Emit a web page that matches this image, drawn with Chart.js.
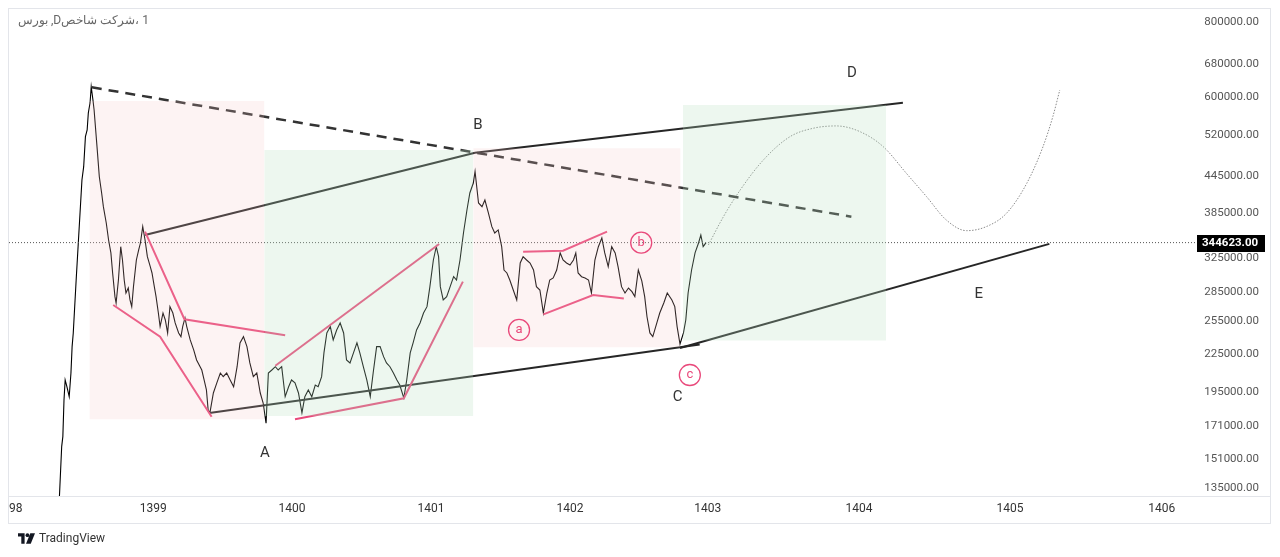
<!DOCTYPE html>
<html>
<head>
<meta charset="utf-8">
<title>شاخص شرکت</title>
<script src="https://cdn.jsdelivr.net/npm/chart.js@4.4.1/dist/chart.umd.min.js"></script>
<style>
  html, body { margin: 0; padding: 0; background: #fff; }
  body { width: 1280px; height: 557px; position: relative; overflow: hidden; font-family: Roboto, "Noto Sans", sans-serif; }
  #clip { position: absolute; left: 8px; top: 0; width: 1272px; height: 557px; overflow: hidden; }
  #chart { position: absolute; left: -28px; top: 0; }
  .line { position: absolute; background: #e3e5ea; pointer-events: none; }
  #title { position: absolute; left: 18px; top: 13px; font-size: 12px; color: #666; white-space: nowrap; }
  #title span { unicode-bidi: isolate; }
  #brand { position: absolute; left: 18px; top: 531px; font-size: 12px; color: #333; display: flex; align-items: center; gap: 4px; }
</style>
</head>
<body>
<div id="clip"><canvas id="chart" width="1300" height="557"></canvas></div>
<div class="line" style="left:8px;top:8px;width:1263px;height:1px"></div>
<div class="line" style="left:8px;top:523px;width:1263px;height:1px"></div>
<div class="line" style="left:8px;top:8px;width:1px;height:516px"></div>
<div class="line" style="left:1270px;top:8px;width:1px;height:516px"></div>
<div class="line" style="left:8px;top:496px;width:1263px;height:1px"></div>
<div id="title"><span dir="rtl">بورس</span><span dir="ltr"> ,D</span><span dir="rtl">شرکت شاخص</span><span dir="ltr">، 1</span></div>
<div id="brand">
  <svg width="17" height="11" viewBox="0 0 36 22"><path d="M0 0h14v22H7V7H0z" fill="#131722"/><circle cx="20" cy="4" r="4" fill="#131722"/><path d="M26 0h10l-9 22H17z" fill="#131722"/></svg>
  <span>TradingView</span>
</div>
<script>
// time axis: trading-day index, 0 = start of 1399
const yearLabels = ['1398', '1399', '1400', '1401', '1402', '1403', '1404', '1405', '1406'];
const yearDay = [-249, 0, 240, 480, 720, 958, 1219, 1480, 1742];
const dayMin = -249;
const dayMax = 1803;

// price axis
const priceTicks = [135000, 151000, 171000, 195000, 225000, 255000, 285000, 325000, 385000, 445000, 520000, 600000, 680000, 800000];
const priceMin = 131000;
const priceMax = 840700;

// daily index path
const priceDay = [
  -162, -158, -156, -154, -152, -149, -145, -142, -140, -138, -133, -129, -123, -120, -117, -114, -112, -109, -107, -104,
  -102, -97, -93, -89, -86, -81, -77, -73, -70, -66, -64, -60, -56, -53, -50, -47, -43, -40, -37, -34,
  -29, -25, -22, -18, -14, -10, -5, -2, 2, 5, 9, 12, 17, 21, 25, 29, 34, 38, 44, 48,
  51, 55, 58, 64, 70, 75, 84, 88, 92, 95, 98, 104, 110, 116, 121, 127, 133, 139, 145, 150,
  156, 162, 167, 173, 179, 185, 190, 195, 199, 205, 211, 216, 222, 228, 234, 239, 245, 251, 257, 262,
  268, 274, 280, 285, 291, 295, 300, 306, 311, 317, 323, 329, 334, 340, 346, 352, 357, 363, 369, 375,
  380, 386, 392, 398, 403, 409, 415, 421, 426, 433, 438, 444, 449, 455, 461, 467, 473, 478, 484, 489,
  493, 496, 501, 507, 513, 519, 524, 530, 536, 542, 547, 553, 556, 562, 568, 573, 579, 585, 590, 596,
  602, 606, 611, 616, 622, 628, 634, 639, 645, 651, 657, 662, 668, 674, 680, 685, 691, 697, 703, 708,
  714, 720, 726, 730, 734, 740, 746, 752, 757, 763, 769, 775, 780, 786, 792, 798, 803, 809, 815, 821,
  827, 832, 838, 844, 849, 853, 858, 863, 870, 875, 882, 888, 896, 901, 905, 910, 916, 920, 924, 930,
  936, 942, 946, 950, 955
];
const priceClose = [
  130000, 158200, 164300, 189000, 204000, 198800, 191400, 209500, 231700, 244100, 298800, 348100, 437700, 460500, 516400, 529700, 565300, 587300, 625000, 594000,
  571800, 497100, 443200, 416500, 395300, 371400, 348100, 331300, 306900, 280400, 273700, 298800, 339300, 322500, 298800, 284300, 289800, 276900, 269900, 291300,
  322500, 335100, 344100, 366300, 348100, 326600, 314400, 306900, 291300, 280400, 263400, 250100, 263400, 256500, 244100, 269900, 263400, 253600, 244100, 240700,
  250100, 258500, 250100, 237700, 228800, 220200, 211900, 204000, 196400, 181900, 179900, 194100, 201700, 209500, 206600, 209500, 204000, 198800, 214600, 235000,
  240700, 231700, 217700, 206600, 209500, 194100, 186800, 173000, 209500, 211900, 214600, 211900, 214600, 191400, 198800, 204000, 201700, 194100, 179900, 191400,
  196400, 191400, 200100, 198800, 206600, 226200, 244100, 250100, 237700, 246900, 253600, 244100, 220200, 217700, 226200, 235000, 226200, 214600, 204000, 191400,
  209500, 231700, 231700, 223000, 217700, 214600, 209500, 204000, 200100, 190400, 204000, 226200, 235000, 246900, 253600, 263400, 269900, 291300, 322500, 339300,
  326600, 291300, 276900, 280400, 291300, 302600, 298800, 322500, 357500, 390300, 416500, 432700, 452000, 400900, 395300, 405500, 385900, 366300, 357500, 361700,
  339300, 310400, 306900, 298800, 287600, 276900, 318800, 326600, 322500, 318800, 310400, 291300, 287600, 263400, 284300, 298800, 301100, 310400, 331300, 322500,
  318800, 316400, 322500, 331300, 306900, 302600, 301100, 298800, 284300, 322500, 339300, 350800, 331300, 314400, 339300, 331300, 314400, 291300, 284300, 289800,
  285800, 280400, 310400, 297700, 280400, 259700, 244100, 240700, 253600, 263400, 273700, 284300, 276900, 269900, 250100, 234000, 244100, 256500, 284300, 310400,
  331300, 344100, 354800, 339300, 344623
];
const lastClose = priceClose[priceClose.length - 1];

// trend lines [start, end]
const dashedDay = [-106, 1206];
const dashedPrice = [623500, 380500];
const upperABDay = [-14, 556];
const upperABPrice = [354800, 485800];
const upperBDDay = [556, 1295];
const upperBDPrice = [485800, 588000];
const lowerACDay = [97, 944];
const lowerACPrice = [179900, 233600];
const lowerCEDay = [910, 1548];
const lowerCEPrice = [230500, 343000];

// pink sub-wave lines (polylines)
const pinkDays = [[-14, 54, 228], [-69, 12, 101], [211, 494], [245, 433, 535], [639, 708, 784], [674, 760, 813]];
const pinkPrices = [
  [359300, 257200, 242000], [271600, 240700, 177300], [215400, 342800],
  [175600, 190200, 296900], [332900, 334200, 359300], [262100, 282200, 278300]
];

// boxes
const boxFrom = [-110, 192, 553, 915];
const boxTo = [192, 553, 911, 1266];
const boxTop = [592000, 490800, 494000, 582800];
const boxBottom = [175600, 177800, 231200, 237100];
const boxKind = ['down', 'up', 'down', 'up'];

// projected path (dotted curve)
const projDay = [959, 985, 1014, 1054, 1100, 1140, 1180, 1221, 1261, 1301, 1336, 1370, 1405, 1439, 1474, 1509, 1537, 1554, 1566];
const projPrice = [341500, 380500, 421300, 472400, 516400, 533200, 538000, 526300, 497100, 449000, 410600, 375700, 360700, 366300, 385500, 432200, 497100, 557500, 617100];

// wave labels
const waveText = ['A', 'B', 'C', 'D', 'E'];
const waveDay = [193, 561, 906, 1207, 1426];
const wavePrice = [154400, 540000, 191200, 658500, 283300];
const subText = ['a', 'b', 'c'];
const subDay = [632, 843, 927];
const subPrice = [246900, 344600, 207900];

const PINK = '#e9497b';
const DARK = '#262626';
const FONT = 'Roboto, "Noto Sans", sans-serif';

function pts(days, prices){
  return days.map((d, i) => ({ x: d, y: prices[i] }));
}

Chart.defaults.font.family = FONT;

const datasets = [];

// price
datasets.push({ data: pts(priceDay, priceClose), borderColor: '#000', borderWidth: 1.1, order: 6 });

// last price dotted line
datasets.push({ data: pts([dayMin, dayMax], [lastClose, lastClose]), borderColor: '#555', borderWidth: 1, borderDash: [1, 2], order: 5 });

// projection
datasets.push({ data: pts(projDay, projPrice), borderColor: '#8a8a8a', borderWidth: 1, borderDash: [1.5, 1.5], cubicInterpolationMode: 'monotone', order: 5 });

// dark trend lines
datasets.push({ data: pts(dashedDay, dashedPrice), borderColor: '#333', borderWidth: 2.5, borderDash: [10, 7], order: 4 });
[[upperABDay, upperABPrice], [upperBDDay, upperBDPrice], [lowerACDay, lowerACPrice], [lowerCEDay, lowerCEPrice]].forEach(([d, p]) => {
  datasets.push({ data: pts(d, p), borderColor: DARK, borderWidth: 2, order: 4 });
});

// pink lines
pinkDays.forEach((d, i) => {
  datasets.push({ data: pts(d, pinkPrices[i]), borderColor: PINK, borderWidth: 2, order: 3 });
});

// boxes drawn last so they tint what lies under them
boxFrom.forEach((d, i) => {
  datasets.push({
    data: pts([d, boxTo[i]], [boxTop[i], boxTop[i]]),
    borderWidth: 0,
    fill: { value: boxBottom[i] },
    backgroundColor: boxKind[i] === 'down' ? 'rgba(247, 196, 196, 0.2)' : 'rgba(186, 224, 192, 0.26)',
    order: 0
  });
});

const overlayPlugin = {
  id: 'overlay',
  afterDatasetsDraw(chart){
    const { ctx, scales: { x, y } } = chart;
    ctx.save();
    ctx.textAlign = 'center';
    ctx.textBaseline = 'middle';
    ctx.font = '15px ' + FONT;
    ctx.fillStyle = '#333';
    waveText.forEach((t, i) => {
      ctx.fillText(t, x.getPixelForValue(waveDay[i]), y.getPixelForValue(wavePrice[i]));
    });
    ctx.strokeStyle = PINK;
    ctx.fillStyle = PINK;
    ctx.lineWidth = 1.3;
    ctx.font = '13px ' + FONT;
    subText.forEach((t, i) => {
      const cx = x.getPixelForValue(subDay[i]);
      const cy = y.getPixelForValue(subPrice[i]);
      ctx.beginPath();
      ctx.arc(cx, cy, 10.5, 0, Math.PI * 2);
      ctx.stroke();
      ctx.fillText(t, cx, cy);
    });
    ctx.restore();
  },
  afterDraw(chart){
    const { ctx, chartArea, scales: { y } } = chart;
    const yy = Math.round(y.getPixelForValue(lastClose));
    ctx.save();
    ctx.fillStyle = '#000';
    ctx.fillRect(chartArea.right, yy - 8, 68, 17);
    ctx.fillStyle = '#fff';
    ctx.font = 'bold 11.5px ' + FONT;
    ctx.textAlign = 'left';
    ctx.textBaseline = 'middle';
    ctx.fillText(lastClose.toFixed(2), chartArea.right + 5, yy + 0.5);
    ctx.restore();
  }
};

new Chart(document.getElementById('chart'), {
  type: 'line',
  data: { datasets },
  plugins: [overlayPlugin],
  options: {
    animation: false,
    responsive: false,
    events: [],
    layout: { padding: { top: 9, left: 29, right: 21, bottom: 0 } },
    elements: { point: { radius: 0 }, line: { tension: 0 } },
    plugins: { legend: { display: false }, tooltip: { enabled: false } },
    scales: {
      x: {
        type: 'linear',
        min: dayMin,
        max: dayMax,
        grid: { display: false, drawTicks: false },
        border: { display: false },
        afterBuildTicks: s => { s.ticks = yearDay.map(v => ({ value: v })); },
        afterFit: s => { s.height = 61; },
        ticks: {
          autoSkip: false,
          maxRotation: 0,
          padding: 6,
          color: '#333',
          font: { size: 12 },
          callback: (v, i) => yearLabels[i]
        }
      },
      y: {
        type: 'logarithmic',
        position: 'right',
        min: priceMin,
        max: priceMax,
        grid: { display: false, drawTicks: false },
        border: { display: false },
        afterBuildTicks: s => { s.ticks = priceTicks.map(v => ({ value: v })); },
        afterFit: s => { s.width = 62; },
        ticks: {
          padding: 0,
          crossAlign: 'far',
          color: '#555',
          font: { size: 11.5 },
          callback: v => Number(v).toFixed(2)
        }
      }
    }
  }
});
</script>
</body>
</html>
